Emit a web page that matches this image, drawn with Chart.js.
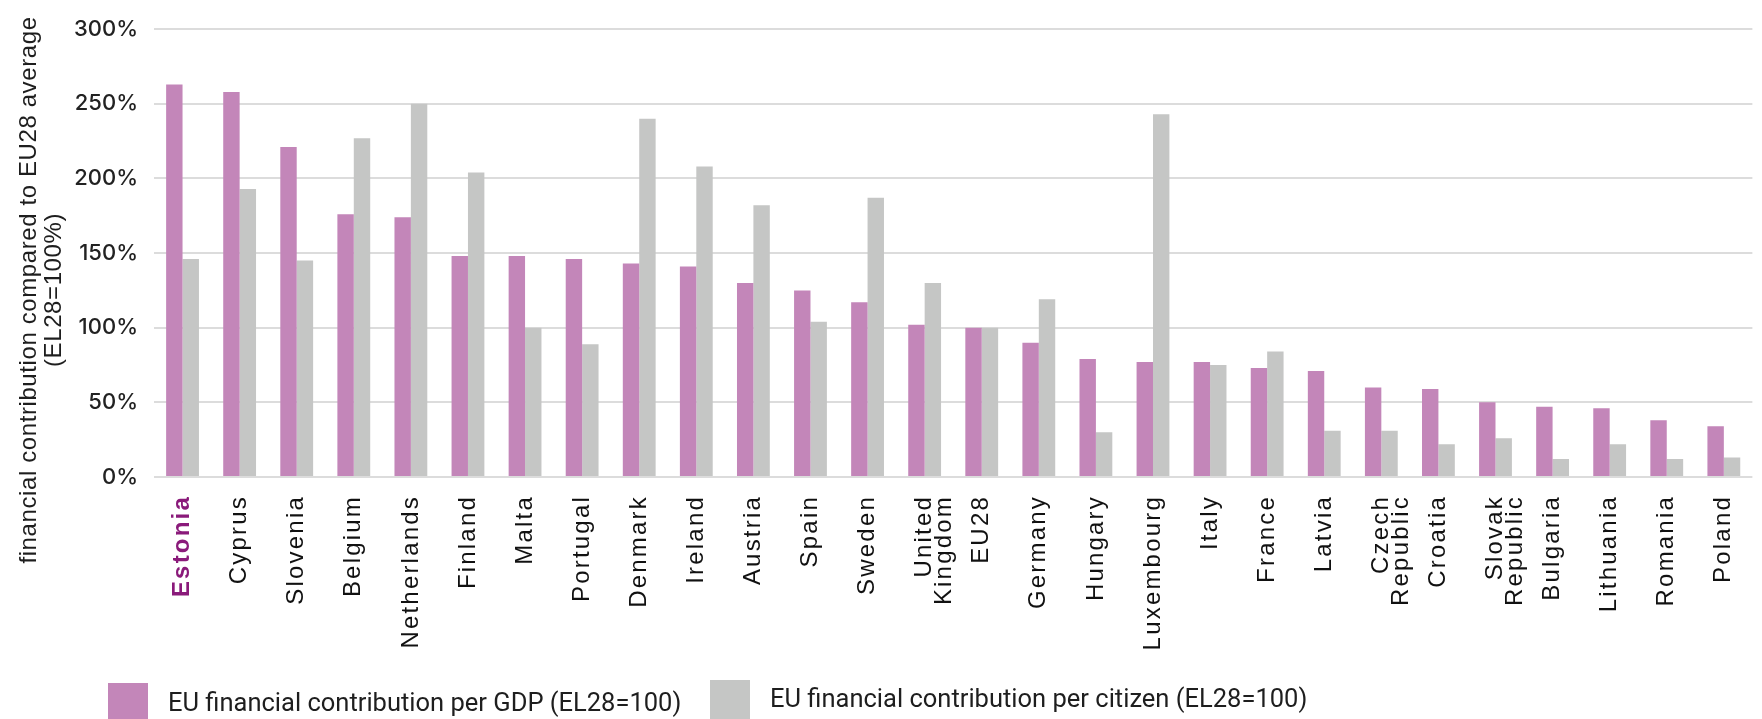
<!DOCTYPE html>
<html><head><meta charset="utf-8">
<script src="https://cdn.jsdelivr.net/npm/chart.js@4.4.1/dist/chart.umd.min.js"></script>
<style>
html,body{margin:0;padding:0;background:#fff;overflow:hidden;}
#wrap{position:relative;width:1762px;height:719px;overflow:hidden;}
#c{position:absolute;left:0;top:0;}
.lgt{position:absolute;font-family:Roboto,"Liberation Sans",sans-serif;font-size:25.5px;line-height:25px;color:#1e1e1e;white-space:nowrap;}
.sw{position:absolute;width:40px;height:40px;}
</style></head><body>
<div id="wrap"><canvas id="c" width="1762" height="719"></canvas><div id="legend"></div></div>
<script>
const categories = ['Estonia','Cyprus','Slovenia','Belgium','Netherlands','Finland','Malta','Portugal','Denmark','Ireland','Austria','Spain','Sweden',['United','Kingdom'],'EU28','Germany','Hungary','Luxembourg','Italy','France','Latvia',['Czech','Republic'],'Croatia',['Slovak','Republic'],'Bulgaria','Lithuania','Romania','Poland'];
const perGDP     = [263,258,221,176,174,148,148,146,143,141,130,125,117,102,100,90,79,77,77,73,71,60,59,50,47,46,38,34];
const perCitizen = [146,193,145,227,250,204,100,89,240,208,182,104,187,130,100,119,30,243,75,84,31,31,22,26,12,22,12,13];
const seriesNames = ['EU financial contribution per GDP (EL28=100)','EU financial contribution per citizen (EL28=100)'];
const seriesColors = ['#C386B9','#C5C6C5'];
const yMin = 0, yMax = 300, yStep = 50;
const yTitle = ['financial contribution compared to EU28 average','(EL28=100%)'];
const highlightCategory = 'Estonia';

const yTitlePlugin = {
  id:'ytitle',
  afterDraw(chart){
    const ctx = chart.ctx;
    ctx.save();
    ctx.fillStyle = '#1e1e1e';
    ctx.font = '24px "Liberation Sans", Arial, sans-serif';
    try { ctx.letterSpacing = '0.6px'; } catch(e) {}
    ctx.textAlign = 'center';
    ctx.textBaseline = 'middle';
    const cy = 290, xs = [29, 54];
    yTitle.forEach((t,i)=>{
      ctx.save(); ctx.translate(xs[i], cy); ctx.rotate(-Math.PI/2); ctx.fillText(t,0,0); ctx.restore();
    });
    ctx.restore();
  }
};

const chart = new Chart(document.getElementById('c'), {
  type:'bar',
  data:{
    labels: categories,
    datasets:[
      {label:seriesNames[0], data:perGDP, backgroundColor:seriesColors[0], borderWidth:0},
      {label:seriesNames[1], data:perCitizen, backgroundColor:seriesColors[1], borderWidth:0}
    ]
  },
  options:{
    responsive:false, animation:false,
    layout:{padding:{top:23,right:0,left:0,bottom:0}},
    categoryPercentage:0.575, barPercentage:1,
    plugins:{legend:{display:false}, tooltip:{enabled:false}},
    scales:{
      x:{
        grid:{display:false, drawTicks:false},
        border:{display:false},
        ticks:{
          autoSkip:false, minRotation:90, maxRotation:90, padding:18,
          color:(c)=> (categories[c.index]===highlightCategory ? '#8a1a7a' : '#111111'),
          font:(c)=> ({family:'"Liberation Sans", Arial, sans-serif', size:24, lineHeight:0.84, weight:(categories[c.index]===highlightCategory?'bold':'normal')})
        },
        afterFit(s){ s.height = 719-477; }
      },
      y:{
        min:yMin, max:yMax,
        grid:{color:'#dcdcdc', lineWidth:2, drawTicks:false},
        border:{display:false},
        ticks:{stepSize:yStep, padding:16, color:'#222', font:{family:'Inter, sans-serif', size:22, weight:'500'}, callback:(v)=> v+'%'},
        afterFit(s){ s.width = 154; }
      }
    }
  },
  plugins:[yTitlePlugin]
});

// spaced-out category labels, as in the reference
const xScale = chart.scales.x;
const origDrawLabels = xScale.drawLabels.bind(xScale);
xScale.drawLabels = function(area){
  const ctx = this.ctx;
  ctx.save();
  try { ctx.letterSpacing = '2.2px'; } catch(e) {}
  origDrawLabels(area);
  ctx.restore();
};
chart.draw();

// legend (HTML)
const lg = document.getElementById('legend');
const legendPos = [{sx:108, sy:683, tx:168, ty:690},{sx:710, sy:680, tx:770, ty:686}];
seriesNames.forEach((n,i)=>{
  const sw = document.createElement('div'); sw.className='sw';
  sw.style.left = legendPos[i].sx+'px'; sw.style.top = legendPos[i].sy+'px'; sw.style.background = seriesColors[i];
  const t = document.createElement('div'); t.className='lgt';
  t.style.left = legendPos[i].tx+'px'; t.style.top = legendPos[i].ty+'px'; t.textContent = n;
  lg.appendChild(sw); lg.appendChild(t);
});
</script>
</body></html>
